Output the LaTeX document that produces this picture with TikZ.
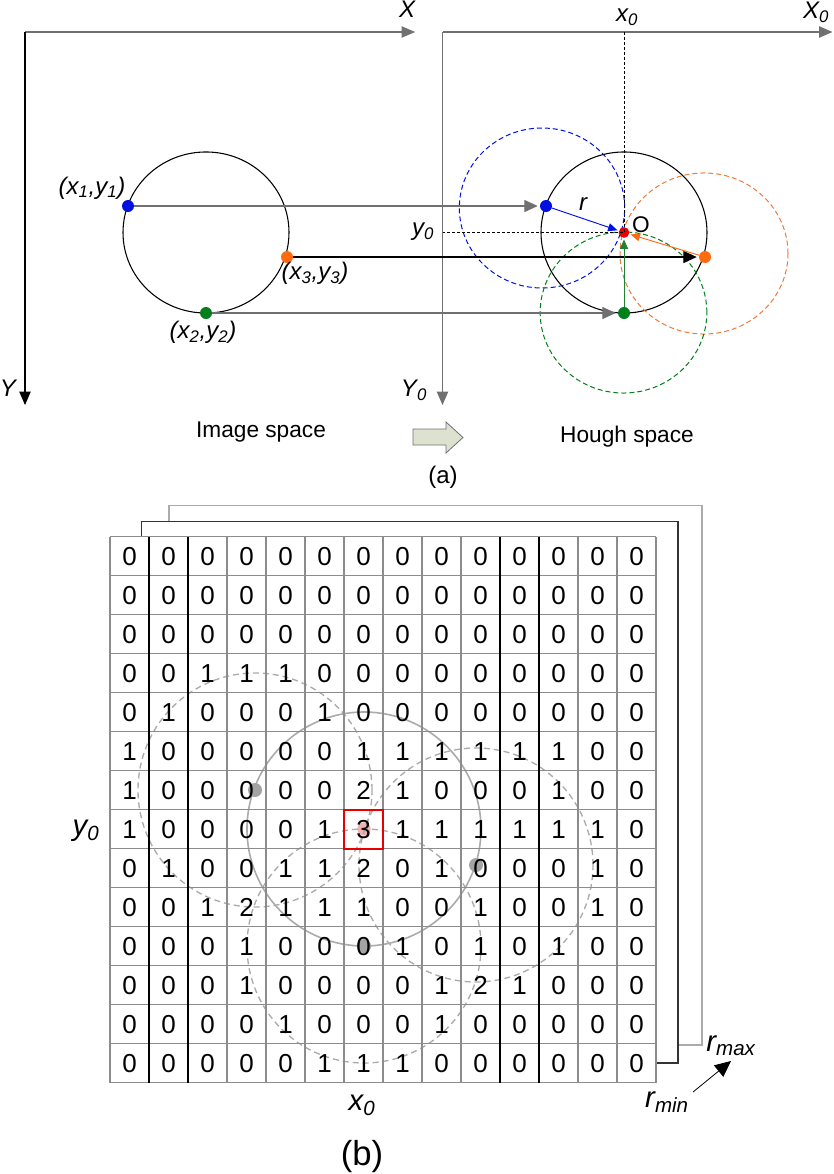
\documentclass[tikz,border=0pt]{standalone}
\usepackage{fontspec}
\setmainfont{Liberation Sans}
\usetikzlibrary{arrows.meta}
\definecolor{cblue}{HTML}{0010E0}
\definecolor{corange}{HTML}{FF6A10}
\definecolor{cdorange}{HTML}{F07A3A}
\definecolor{cgreen}{HTML}{00801A}
\definecolor{cred}{HTML}{E80000}
\definecolor{axgray}{HTML}{707070}
\definecolor{gridgray}{HTML}{8C8C8C}
\definecolor{circgray}{HTML}{ABABAB}
\definecolor{dotgray}{HTML}{A3A3A3}
\definecolor{pinkdot}{HTML}{F2B0B0}
\definecolor{arrowfill}{HTML}{DDE2D0}
\newcommand\sbs[1]{\textsubscript{#1}}
\begin{document}
\begin{tikzpicture}[x=0.75pt,y=-0.75pt,
  lbl/.style={inner sep=0pt,font=\fontsize{18}{21}\selectfont\itshape},
  txt/.style={inner sep=0pt,font=\fontsize{17}{20}\selectfont},
  big/.style={inner sep=0pt,font=\fontsize{22}{26}\selectfont\itshape},
  digit/.style={inner sep=0pt,font=\fontsize{19.5}{22}\selectfont},
  pt/.style={circle,inner sep=0pt,minimum size=9pt},
  axis/.style={line width=0.8pt,-{Triangle[length=10pt,width=8.5pt]}},
  harrow/.style={line width=0.8pt,-{Triangle[length=10pt,width=9pt]},shorten >=1.5pt},
  rarrow/.style={line width=0.7pt,-{Triangle[length=7pt,width=6pt]},shorten >=1pt},
  hdash/.style={line width=0.75pt,dash pattern=on 3.75pt off 2.25pt},
  gdash/.style={circgray,line width=1pt,dash pattern=on 4.5pt off 3pt},
  vdash/.style={line width=0.6pt,dash pattern=on 2.2pt off 1.5pt}
]
\useasboundingbox (0,0) rectangle (833,1174);

% ---------------- (a) image space ----------------
\coordinate (oA) at (25,32);
\coordinate (xA) at (415,32);
\coordinate (yA) at (25,405);
\draw[axis,axgray] (oA) -- (xA);
\draw[axis,black] (oA) -- (yA);
\node[lbl] (lX) at (407,9) {X};
\node[lbl] (lY) at (8,388) {Y};

\draw[line width=0.8pt] (206,232.5) ellipse [x radius=62.25pt,y radius=60.4pt];

\node[pt,fill=cblue] (p1) at (128,206) {};
\node[pt,fill=corange] (p3) at (287,257) {};
\node[pt,fill=cgreen] (p2) at (206,313) {};
\node[lbl] (l1) at (92,188) {(x\sbs{1},y\sbs{1})};
\node[lbl] (l3) at (315,273) {(x\sbs{3},y\sbs{3})};
\node[lbl] (l2) at (203,332) {(x\sbs{2},y\sbs{2})};

% ---------------- Hough space ----------------
\coordinate (oB) at (442.5,32);
\coordinate (xB) at (832.5,32);
\coordinate (yB) at (442.5,405);
\draw[axis,axgray] (oB) -- (xB);
\draw[axis,axgray] (oB) -- (yB);
\node[lbl] (lX0) at (816,12) {X\sbs{0}};
\node[lbl] (lY0) at (414,390) {Y\sbs{0}};
\node[lbl] (lx0) at (627,17) {x\sbs{0}};
\node[lbl] (ly0) at (423,232) {y\sbs{0}};

\draw[line width=0.8pt] (624,232.5) ellipse [x radius=62.25pt,y radius=60.4pt];
\draw[hdash,cblue] (542,208) ellipse [x radius=62pt,y radius=60pt];
\draw[hdash,cdorange] (704,253.5) ellipse [x radius=63pt,y radius=60.4pt];
\draw[hdash,cgreen] (623.5,312.5) ellipse [x radius=62.5pt,y radius=60.4pt];

\node[pt,fill=cblue] (h1) at (546,206) {};
\node[pt,fill=corange] (h3) at (705,257) {};
\node[pt,fill=cgreen] (h2) at (624,313) {};
\node[pt,fill=cred,minimum size=8pt] (O) at (624,232.5) {};

\coordinate (x0top) at (624,32);
\coordinate (y0left) at (442.5,232.5);
\draw[vdash] (x0top) -- (O.center);
\draw[vdash] (y0left) -- (O.center);

\draw[harrow,axgray] (p1) -- (h1);
\draw[harrow,black] (p3) -- (h3);
\draw[harrow,axgray] (p2) -- (h2);

\draw[rarrow,cblue] (h1) -- (O);
\draw[rarrow,corange] (h3) -- (O);
\draw[rarrow,cgreen!75!gray] (h2) -- (O);
\node[lbl] (lr) at (583,204) {r};
\node[txt] (lO) at (641,225) {O};

\node[txt] (is) at (261,432) {Image space};
\node[txt] (hs) at (627,437) {Hough space};
\draw[fill=arrowfill,draw=axgray,line width=0.6pt]
  (413,429) -- (446,429) -- (446,422) -- (463,437.5) -- (446,453) -- (446,445) -- (413,445) -- cycle;
\node[inner sep=0pt,font=\fontsize{18}{21}\selectfont] (la) at (443,477) {(a)};

% ---------------- (b) accumulator ----------------
% back layers
\draw[circgray,line width=0.8pt] (169,521.7) -- (169,505.7) -- (702,505.7) -- (702,1045) -- (678,1045);
\draw[black!80,line width=0.8pt] (141.7,536.7) -- (141.7,521.7) -- (678,521.7) -- (678,1063) -- (655,1063);
\fill[white] (110,536.7) rectangle (656,1083);

% circles
\draw[circgray,line width=1.2pt] (364,829) circle [radius=87.75pt];
\node[circle,inner sep=0pt,minimum size=10pt,fill=pinkdot] (pc) at (364,829) {};
\node[circle,inner sep=0pt,minimum size=10.5pt,fill=dotgray] (gA) at (255,790) {};
\node[circle,inner sep=0pt,minimum size=10.5pt,fill=dotgray] (gB) at (476,865) {};
\node[circle,inner sep=0pt,minimum size=10.5pt,fill=dotgray] (gC) at (364,946) {};
\draw[gdash] (gA.center) circle [radius=87.75pt];
\draw[gdash] (gB.center) circle [radius=87.75pt];
\draw[gdash] (gC.center) circle [radius=87.75pt];

% grid lines
\foreach \i in {0,...,14} {
  \draw[gridgray,line width=0.9pt] ({110+39*\i},536.7) -- ({110+39*\i},1082.7);
  \draw[gridgray,line width=0.9pt] (110,{536.7+39*\i}) -- (656,{536.7+39*\i});
}
\foreach \i in {1,2,10,11} {
  \draw[black,line width=0.8pt] ({110+39*\i},536.7) -- ({110+39*\i},1082.7);
}
\draw[cred,line width=1.7pt] (344,810) rectangle (383,849);

% values
\foreach \vals [count=\r from 0] in {
 {0,0,0,0,0,0,0,0,0,0,0,0,0,0},
 {0,0,0,0,0,0,0,0,0,0,0,0,0,0},
 {0,0,0,0,0,0,0,0,0,0,0,0,0,0},
 {0,0,1,1,1,0,0,0,0,0,0,0,0,0},
 {0,1,0,0,0,1,0,0,0,0,0,0,0,0},
 {1,0,0,0,0,0,1,1,1,1,1,1,0,0},
 {1,0,0,0,0,0,2,1,0,0,0,1,0,0},
 {1,0,0,0,0,1,3,1,1,1,1,1,1,0},
 {0,1,0,0,1,1,2,0,1,0,0,0,1,0},
 {0,0,1,2,1,1,1,0,0,1,0,0,1,0},
 {0,0,0,1,0,0,0,1,0,1,0,1,0,0},
 {0,0,0,1,0,0,0,0,1,2,1,0,0,0},
 {0,0,0,0,1,0,0,0,1,0,0,0,0,0},
 {0,0,0,0,0,1,1,1,0,0,0,0,0,0}}{
  \foreach \v [count=\c from 0] in \vals {
    \node[digit] (d\r-\c) at ({129.5+39*\c},{556.2+39*\r}) {\v};
  }
}

\node[big] (gy0) at (86,831) {y\sbs{0}};
\node[big] (gx0) at (362,1105) {x\sbs{0}};
\node[big] (rmax) at (731,1046) {r\sbs{max}};
\node[big] (rmin) at (667,1102) {r\sbs{min}};
\coordinate (rtip) at (731,1061);
\coordinate (rtail) at (693,1092);
\draw[line width=0.6pt,-{Triangle[length=12pt,width=11pt]}] (rtail) -- (rtip);
\node[inner sep=0pt,font=\fontsize{26}{30}\selectfont] (lb) at (362,1157) {(b)};
\end{tikzpicture}
\end{document}
